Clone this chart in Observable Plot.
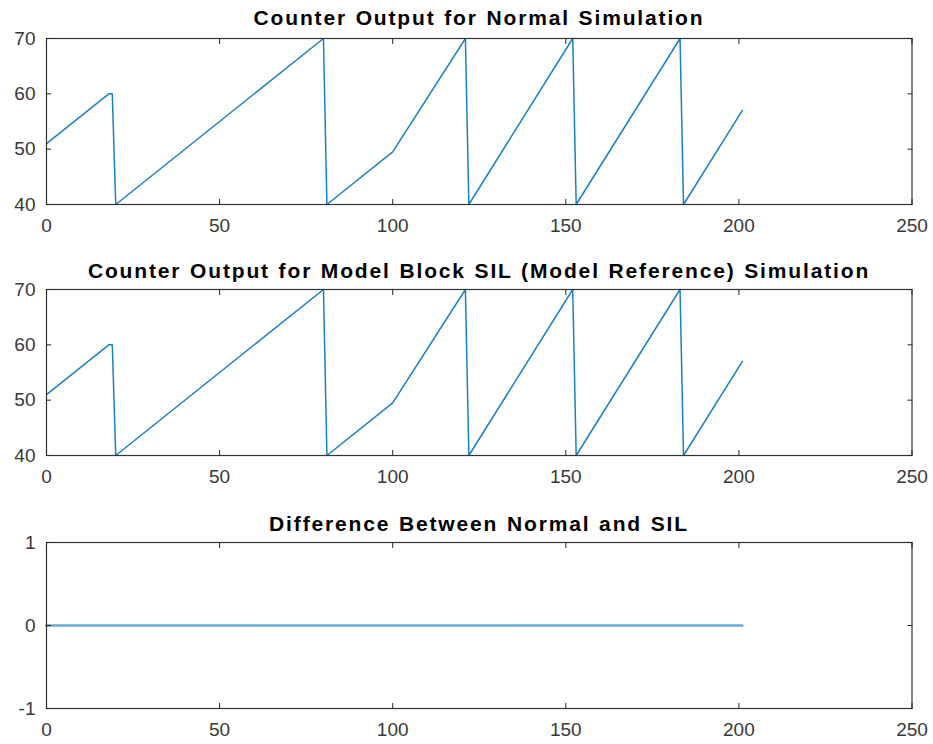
<!DOCTYPE html>
<html><head><meta charset="utf-8">
<script src="https://cdn.jsdelivr.net/npm/d3@7"></script>
<script src="https://cdn.jsdelivr.net/npm/@observablehq/plot@0.6"></script>
<style>
body{margin:0;background:#fff;}
#fig{position:relative;width:933px;height:744px;overflow:hidden;font-family:"Liberation Sans",Arial,sans-serif;background:#fff;}
.panel{position:absolute;left:0;}
.title{position:absolute;left:46px;width:866px;text-align:center;font-weight:bold;font-size:21px;letter-spacing:1.85px;word-spacing:1px;color:#000;line-height:21px;white-space:nowrap;}
</style></head><body><div id="fig"></div>
<script>
// Counter output, normal simulation (time, value)
const normalTime  = [0, 18, 19, 20, 80, 81, 100, 121, 122, 152, 153, 183, 184, 201];
const normalCount = [51, 60, 60, 40, 70, 40, 49.5, 70, 40, 70, 40, 70, 40, 57];
// Counter output, Model block SIL simulation
const silTime  = [0, 18, 19, 20, 80, 81, 100, 121, 122, 152, 153, 183, 184, 201];
const silCount = [51, 60, 60, 40, 70, 40, 49.5, 70, 40, 70, 40, 70, 40, 57];
// Difference
const diffTime   = [0, 201];
const diffValues = [0, 0];

const xTicks = [0, 50, 100, 150, 200, 250];
const countTicks = [40, 50, 60, 70];
const diffTicks = [-1, 0, 1];
const titles = [
  "Counter Output for Normal Simulation",
  "Counter Output for Model Block SIL (Model Reference) Simulation",
  "Difference Between Normal and SIL"
];

const fig = document.getElementById("fig");
const BLUE = "#0072BD";
const fmt = d => String(d);

function panel(xs, ys, yDomain, yTicks, top, title, titleBaseline, lineOpts) {
  const data = xs.map((x, i) => ({x, y: ys[i]}));
  const svg = Plot.plot({
    width: 933, height: 241,
    marginLeft: 46, marginRight: 21.5, marginTop: 38, marginBottom: 37,
    style: {fontFamily: "'Liberation Sans', Arial, sans-serif", fontSize: "19px", color: "#262626", background: "transparent", overflow: "visible"},
    x: {domain: [0, 250]},
    y: {domain: yDomain},
    marks: [
      Plot.line(data, {x: "x", y: "y", stroke: BLUE, strokeWidth: 1.5, strokeOpacity: 0.9, ...lineOpts}),
      Plot.frame({stroke: "#333", strokeWidth: 1.2}),
      Plot.axisX(xTicks, {anchor: "bottom", tickSize: -5, tickPadding: 19, label: null, fill: "#383838", tickFormat: fmt}),
      Plot.axisX(xTicks, {anchor: "top", tickSize: -5, fill: "none", label: null}),
      Plot.axisY(yTicks, {anchor: "left", tickSize: -5, tickPadding: 16, label: null, fill: "#383838", tickFormat: fmt}),
      Plot.axisY(yTicks, {anchor: "right", tickSize: -5, fill: "none", label: null})
    ]
  });
  const wrap = document.createElement("div");
  wrap.className = "panel";
  wrap.style.top = top + "px";
  wrap.appendChild(svg);
  fig.appendChild(wrap);
  const t = document.createElement("div");
  t.className = "title";
  t.textContent = title;
  t.style.top = (titleBaseline - 17.8) + "px";
  fig.appendChild(t);
}

panel(normalTime, normalCount, [40, 70], countTicks, 0, titles[0], 25, {});
panel(silTime, silCount, [40, 70], countTicks, 251, titles[1], 278, {});
panel(diffTime, diffValues, [-1, 1], diffTicks, 504, titles[2], 531, {strokeWidth: 2.6, strokeOpacity: 0.6});
</script></body></html>
